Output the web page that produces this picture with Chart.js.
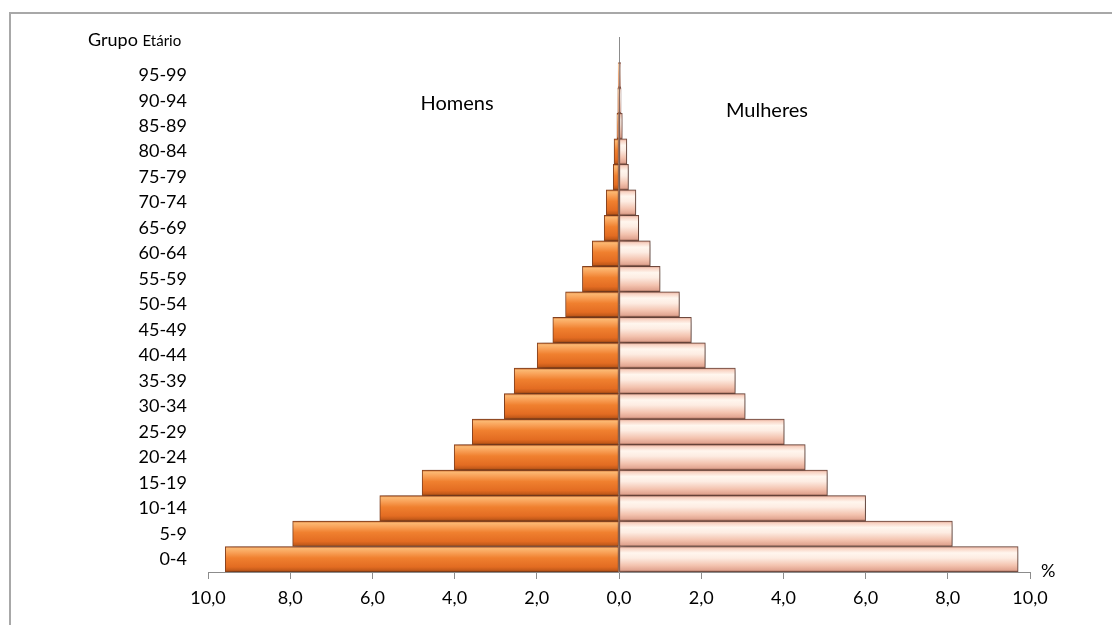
<!DOCTYPE html>
<html>
<head>
<meta charset="utf-8">
<script src="https://cdn.jsdelivr.net/npm/chart.js@4.4.1/dist/chart.umd.min.js"></script>
<style>
  html, body { margin: 0; padding: 0; background: #fff; overflow: hidden; }
  #frame { position: absolute; left: 9px; top: 12px; width: 1200px; height: 700px;
           border-top: 2px solid #a8a8a8; border-left: 2px solid #a8a8a8; }
  #pyramid { position: absolute; left: 0; top: 0; }
</style>
</head>
<body>
<div id="frame"></div>
<canvas id="pyramid" width="1112" height="625"></canvas>
<script>
// age groups bottom -> top; last one is the empty header row above 95-99
const ageGroups = ['0-4', '5-9', '10-14', '15-19', '20-24', '25-29', '30-34', '35-39', '40-44',
  '45-49', '50-54', '55-59', '60-64', '65-69', '70-74', '75-79', '80-84', '85-89', '90-94', '95-99', ''];
const menPct = [9.58, 7.94, 5.82, 4.79, 4.01, 3.57, 2.79, 2.55, 1.99, 1.61,
  1.30, 0.89, 0.65, 0.36, 0.31, 0.14, 0.12, 0.05, 0.03, 0.02];
const womenPct = [9.71, 8.11, 6.00, 5.07, 4.53, 4.02, 3.07, 2.83, 2.10, 1.76,
  1.47, 1.00, 0.76, 0.48, 0.41, 0.23, 0.19, 0.08, 0.05, 0.04];
const xTicks = [-10, -8, -6, -4, -2, 0, 2, 4, 6, 8, 10];

const FONT = 'Lato, "Open Sans", sans-serif';

const menStops = [[0, '#c8642a'], [0.08, '#fbb872'], [0.22, '#f9a35a'], [0.45, '#f0802f'],
  [0.8, '#e36c22'], [0.93, '#c45a1a'], [1, '#8a3f10']];
const womenStops = [[0, '#d89c8a'], [0.08, '#f8d2c2'], [0.25, '#fff6ee'], [0.45, '#fdece2'],
  [0.75, '#f3c2ae'], [0.92, '#e2a692'], [1, '#94604f']];

// vertical bevel-like gradient for each bar, built from the category scale
function bevel(stops) {
  return ctx => {
    const chart = ctx.chart;
    const y = chart.scales.y;
    if (!y || ctx.type !== 'data') return stops[3][1];
    const c = y.getPixelForValue(ctx.dataIndex);
    const h = Math.abs(y.getPixelForValue(1) - y.getPixelForValue(0));
    if (!isFinite(c) || !isFinite(h) || h === 0) return stops[3][1];
    const g = chart.ctx.createLinearGradient(0, c - h / 2, 0, c + h / 2);
    stops.forEach(s => g.addColorStop(s[0], s[1]));
    return g;
  };
}

const barShadow = {
  id: 'barShadow',
  beforeDatasetsDraw(chart) {
    const c = chart.ctx;
    c.save();
    c.shadowColor = 'rgba(0,0,0,0.35)';
    c.shadowBlur = 7;
    c.shadowOffsetX = 3;
    c.shadowOffsetY = 1;
  },
  afterDatasetsDraw(chart) {
    chart.ctx.restore();
  }
};

const textBoxes = {
  id: 'textBoxes',
  afterDraw(chart) {
    const c = chart.ctx;
    const x = chart.scales.x;
    c.save();
    c.fillStyle = '#000';
    c.textBaseline = 'middle';
    c.textAlign = 'center';
    c.font = '20px ' + FONT;
    c.fillText('Homens', x.getPixelForValue(-3.94), 104);
    c.fillText('Mulheres', x.getPixelForValue(3.6), 111);
    // axis caption
    c.textAlign = 'left';
    c.font = '18px ' + FONT;
    c.fillText('Grupo', 88, 40);
    const w = c.measureText('Grupo ').width;
    c.font = '15px ' + FONT;
    c.fillText('Etário', 88 + w, 41);
    c.font = '18px ' + FONT;
    c.fillText('%', x.right + 11, 571);
    c.restore();
  }
};

new Chart(document.getElementById('pyramid'), {
  type: 'bar',
  data: {
    labels: ageGroups,
    datasets: [{
      label: 'Homens',
      data: menPct.map(v => -v),
      backgroundColor: bevel(menStops),
      borderColor: '#8a4420',
      borderWidth: 1,
      borderSkipped: false,
      barPercentage: 1,
      categoryPercentage: 1
    }, {
      label: 'Mulheres',
      data: womenPct,
      backgroundColor: bevel(womenStops),
      borderColor: '#7a5044',
      borderWidth: 1,
      borderSkipped: false,
      barPercentage: 1,
      categoryPercentage: 1
    }]
  },
  options: {
    indexAxis: 'y',
    responsive: false,
    animation: false,
    layout: { padding: { top: 37, right: 82, bottom: 0, left: 0 } },
    plugins: { legend: { display: false }, tooltip: { enabled: false } },
    scales: {
      x: {
        stacked: true,
        min: -10,
        max: 10,
        afterBuildTicks: s => { s.ticks = xTicks.map(v => ({ value: v })); },
        afterFit: s => { s.height = 53; },
        border: { display: true, color: '#8c8c8c', width: 1 },
        grid: {
          drawOnChartArea: true,
          color: ctx => (ctx.tick && ctx.tick.value === 0 ? '#8c8c8c' : 'rgba(0,0,0,0)'),
          tickColor: '#8c8c8c',
          tickLength: 7
        },
        ticks: {
          color: '#000',
          font: { family: FONT, size: 18 },
          padding: 8,
          maxRotation: 0,
          callback: v => Math.abs(v).toFixed(1).replace('.', ',')
        }
      },
      y: {
        stacked: true,
        reverse: true,
        afterFit: s => { s.width = 208; },
        border: { display: false },
        grid: { display: false, drawTicks: false },
        ticks: {
          color: '#000',
          font: { family: FONT, size: 18 },
          padding: 21,
          autoSkip: false
        }
      }
    }
  },
  plugins: [barShadow, textBoxes]
});
</script>
</body>
</html>
